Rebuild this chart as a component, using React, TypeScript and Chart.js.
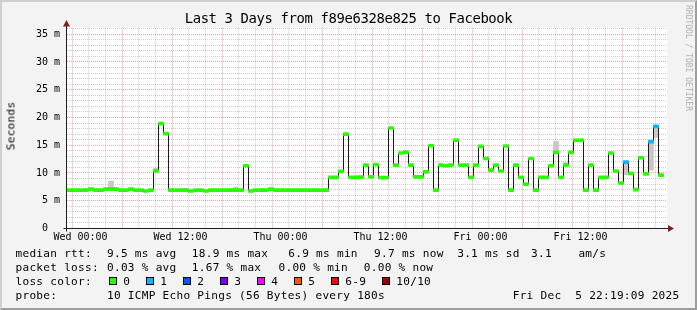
import React, { useEffect, useRef } from "react";
import { Chart, registerables } from "chart.js";

Chart.register(...registerables);

// ---------------- data ----------------
const TITLE = "Last 3 Days from f89e6328e825 to Facebook";
const STEP_HOURS = 0.6; // 36-minute consolidated steps
const FIRST_STEP_START_H = -2.04; // hours relative to Wed 00:00 (partial first step)
const VIEW_START_H = -1.62;
const VIEW_END_H = 70.38;
const Y_MAX_MS = 36.2;

// median rtt (ms) per 36-min step
const medianMs: (number | null)[] = [
  6.9, 6.9, 6.9, 6.9, 6.9, 7.1, 6.9, 6.9, 7.1, 7.1,
  7.1, 6.9, 6.9, 7.1, 6.9, 6.9, 6.75, 6.9, 10.35, 18.9,
  17.1, 6.9, 6.9, 6.9, 6.9, 6.75, 6.9, 6.9, 6.75, 6.9,
  6.9, 6.9, 6.9, 6.9, 6.9, 6.9, 11.3, 6.75, 6.9, 6.9,
  6.9, 7.1, 6.9, 6.9, 6.9, 6.9, 6.9, 6.9, 6.9, 6.9,
  6.9, 6.9, 6.9, 9.2, 9.2, 10.3, 17.0, 9.2, 9.2, 9.25,
  11.4, 9.3, 11.5, 9.15, 9.15, 18.1, 11.4, 13.6, 13.75, 11.4,
  9.3, 9.3, 10.2, 14.9, 6.9, 11.4, 11.3, 11.4, 15.9, 11.4,
  11.4, 9.2, 11.4, 14.8, 12.6, 10.5, 11.4, 10.35, 14.85, 6.9,
  11.4, 9.2, 8.0, 12.6, 6.9, 9.2, 9.2, 11.3, 13.7, 9.2,
  11.4, 13.7, 15.9, 15.9, 6.9, 11.4, 6.9, 9.2, 9.2, 13.6,
  10.35, 8.2, 11.95, 9.9, 7.0, 12.75, 9.85, 15.65, 18.4, 9.6,
  null,
];

// visible "smoke" (ping spread) per step index
const smokeSteps = [9, 18, 21, 24, 33, 34, 89, 98, 100, 112, 113, 117, 118, 119];
const smokeLowMs = [6.9, 10.35, 6.9, 6.9, 6.9, 6.9, 6.9, 13.7, 11.4, 9.7, 9.7, 10.5, 16.4, 9.4];
const smokeHighMs = [8.55, 10.9, 7.2, 7.2, 7.2, 7.45, 7.2, 15.7, 11.85, 11.95, 10.2, 15.65, 18.4, 9.6];

// steps with packet loss (number of lost pings out of 10)
const lossSteps = [112, 117, 118];
const lossCounts = [1, 1, 1];

const xGridHours = [0, 2, 4, 6, 8, 10, 12, 14, 16, 18, 20, 22, 24, 26, 28, 30, 32, 34, 36, 38, 40, 42, 44, 46, 48, 50, 52, 54, 56, 58, 60, 62, 64, 66, 68, 70];
const xLabelHours = [0, 12, 24, 36, 48, 60];
const xLabels = ["Wed 00:00", "Wed 12:00", "Thu 00:00", "Thu 12:00", "Fri 00:00", "Fri 12:00"];
const yGridMs = [0, 1, 2, 3, 4, 5, 6, 7, 8, 9, 10, 11, 12, 13, 14, 15, 16, 17, 18, 19, 20, 21, 22, 23, 24, 25, 26, 27, 28, 29, 30, 31, 32, 33, 34, 35, 36];
const yLabelMs = [0, 5, 10, 15, 20, 25, 30, 35];
const yLabels = ["0  ", "5 m", "10 m", "15 m", "20 m", "25 m", "30 m", "35 m"];

const lossLegendLabels = ["0", "1", "2", "3", "4", "5", "6-9", "10/10"];
const lossLegendColors = ["#26ff00", "#00b8ff", "#0059ff", "#7e00ff", "#ff00ff", "#ff5500", "#ff0000", "#a00000"];
const statsRtt = ["9.5 ms avg", "18.9 ms max", "6.9 ms min", "9.7 ms now", "3.1 ms sd", "3.1", "am/s"];
const statsLoss = ["0.03 % avg", "1.67 % max", "0.00 % min", "0.00 % now"];
const PROBE = "10 ICMP Echo Pings (56 Bytes) every 180s";
const STAMP = "Fri Dec  5 22:19:09 2025";

// ---------------- style ----------------
const MONO = "'DejaVu Sans Mono', monospace";
const BAND_HALF_MS = 0.27;
const MINOR_GRID = "rgba(143,143,143,0.45)";
const MAJOR_GRID = "rgba(222,80,80,0.5)";
const SMOKE_COLOR = "#c8c8c8";
const rttX = [107, 191.8, 288.3, 374.1, 457.2, 531, 578.4];
const lossX = [107, 191.8, 278.5, 363.8];
const boxX = [108.5, 145.5, 182.5, 219.5, 256.5, 293.5, 330.5, 381.5];

function lossColorIndex(count: number) {
  if (count <= 5) return count;
  if (count < 10) return 6;
  return 7;
}

const rrdFrame = {
  id: "rrdFrame",
  beforeDraw(chart: any) {
    const { ctx, chartArea: a } = chart;
    ctx.save();
    ctx.fillStyle = "#ffffff";
    ctx.fillRect(a.left, a.top, a.right - a.left, a.bottom - a.top);
    ctx.restore();
  },
  afterDraw(chart: any) {
    const { ctx, chartArea: a } = chart;
    const ax = a.left - 0.5;
    const ay = a.bottom;
    ctx.save();
    ctx.strokeStyle = "#1f1f1f";
    ctx.lineWidth = 1;
    ctx.beginPath();
    ctx.moveTo(ax, ay + 3);
    ctx.lineTo(ax, a.top - 2);
    ctx.moveTo(ax - 3, ay);
    ctx.lineTo(a.right + 2, ay);
    ctx.stroke();
    ctx.fillStyle = "#801f1f";
    ctx.beginPath();
    ctx.moveTo(ax - 3.5, a.top - 1);
    ctx.lineTo(ax + 3.5, a.top - 1);
    ctx.lineTo(ax, a.top - 7.5);
    ctx.closePath();
    ctx.fill();
    ctx.beginPath();
    ctx.moveTo(a.right + 1, ay - 3.5);
    ctx.lineTo(a.right + 1, ay + 3.5);
    ctx.lineTo(a.right + 7, ay);
    ctx.closePath();
    ctx.fill();
    ctx.restore();
  },
};

function Txt(props: { x: number; base: number; text: string; size?: number; ls?: number; color?: string }) {
  const size = props.size ?? 11.1;
  const ls = props.ls ?? 0.27;
  return (
    <div
      style={{
        position: "absolute",
        left: props.x,
        top: props.base - 0.846 * size,
        fontFamily: MONO,
        fontSize: size,
        lineHeight: `${size}px`,
        letterSpacing: ls,
        whiteSpace: "pre",
        color: props.color ?? "#000",
      }}
    >
      {props.text}
    </div>
  );
}

export default function App() {
  const ref = useRef<HTMLCanvasElement>(null);

  useEffect(() => {
    const canvas = ref.current;
    if (!canvas) return;
    const stepStart = (i: number) => FIRST_STEP_START_H + i * STEP_HOURS;
    const stepMid = (i: number) => stepStart(i) + STEP_HOURS / 2;

    const linePts: { x: number; y: number | null }[] = [];
    medianMs.forEach((v, i) => {
      if (v == null) {
        linePts.push({ x: stepStart(i), y: null });
        return;
      }
      linePts.push({ x: stepStart(i), y: v });
      const next = i + 1 < medianMs.length ? medianMs[i + 1] : null;
      if (next == null) linePts.push({ x: stepStart(i + 1), y: v });
    });

    const bandPts: any[] = [];
    const bandColors: string[] = [];
    medianMs.forEach((v, i) => {
      if (v == null) return;
      const li = lossSteps.indexOf(i);
      const loss = li >= 0 ? lossCounts[li] : 0;
      bandPts.push({ x: stepMid(i), y: [v - BAND_HALF_MS, v + BAND_HALF_MS] });
      bandColors.push(lossLegendColors[lossColorIndex(loss)]);
    });

    const smokePts = smokeSteps.map((s, j) => ({ x: stepMid(s), y: [smokeLowMs[j], smokeHighMs[j]] }));

    const tickFont = { family: MONO, size: 10 };

    const chart = new Chart(canvas, {
      type: "line",
      data: {
        datasets: [
          {
            type: "bar",
            label: "smoke",
            data: smokePts,
            backgroundColor: SMOKE_COLOR,
            borderWidth: 0,
            grouped: false,
            barPercentage: 1,
            categoryPercentage: 1,
            order: 3,
          },
          {
            type: "line",
            label: "median",
            data: linePts,
            borderColor: "#1a1a1a",
            borderWidth: 1,
            pointRadius: 0,
            pointHitRadius: 0,
            stepped: "before",
            spanGaps: false,
            fill: false,
            order: 2,
          },
          {
            type: "bar",
            label: "loss",
            data: bandPts,
            backgroundColor: bandColors,
            borderWidth: 0,
            grouped: false,
            barPercentage: 1,
            categoryPercentage: 1,
            order: 1,
          },
        ],
      } as any,
      options: {
        responsive: false,
        animation: false,
        events: [],
        layout: { padding: { left: 0, top: 27.5, right: 30, bottom: 61.5 } },
        plugins: { legend: { display: false }, tooltip: { enabled: false }, title: { display: false } },
        scales: {
          x: {
            type: "linear",
            min: VIEW_START_H,
            max: VIEW_END_H,
            bounds: "data",
            offset: false,
            afterBuildTicks: (s: any) => {
              s.ticks = xGridHours.map((value) => ({ value }));
            },
            afterFit: (s: any) => {
              s.height = 20;
            },
            ticks: {
              autoSkip: false,
              maxRotation: 0,
              minRotation: 0,
              padding: 3,
              color: "#000",
              font: tickFont,
              callback: (v: any) => {
                const j = xLabelHours.indexOf(Number(v));
                return j >= 0 ? xLabels[j] : "";
              },
            },
            grid: {
              drawTicks: false,
              lineWidth: 1,
              color: (c: any) => (c.tick && c.tick.value % 6 === 0 ? MAJOR_GRID : MINOR_GRID),
            },
            border: { display: false, dash: [1, 1] },
          },
          y: {
            type: "linear",
            min: 0,
            max: Y_MAX_MS,
            bounds: "data",
            afterBuildTicks: (s: any) => {
              s.ticks = yGridMs.map((value) => ({ value }));
            },
            afterFit: (s: any) => {
              s.width = 67;
            },
            ticks: {
              autoSkip: false,
              padding: 7,
              color: "#000",
              font: tickFont,
              callback: (v: any) => {
                const j = yLabelMs.indexOf(Number(v));
                return j >= 0 ? yLabels[j] : "";
              },
            },
            grid: {
              drawTicks: false,
              lineWidth: 1,
              color: (c: any) =>
                c.tick && c.tick.value % 5 === 0 && c.tick.value !== 0 ? MAJOR_GRID : MINOR_GRID,
            },
            border: { display: false, dash: [1, 1] },
          },
        },
      } as any,
      plugins: [rrdFrame],
    });
    return () => chart.destroy();
  }, []);

  const rowBase = [257.7, 271.7, 285.7, 299.7];

  return (
    <div
      style={{
        position: "absolute",
        left: 0,
        top: 0,
        width: 697,
        height: 310,
        background: "#f3f3f3",
        overflow: "hidden",
      }}
    >
      <canvas
        ref={ref}
        width={697}
        height={310}
        style={{ position: "absolute", left: 0, top: 0, width: 697, height: 310, display: "block" }}
      />
      {/* title */}
      <div
        style={{
          position: "absolute",
          left: 0,
          width: 697,
          top: 24 - 0.846 * 13.9,
          textAlign: "center",
          fontFamily: MONO,
          fontSize: 13.9,
          lineHeight: "13.9px",
          letterSpacing: -0.37,
          whiteSpace: "pre",
          color: "#000",
        }}
      >
        {TITLE}
      </div>
      {/* y axis title */}
      <div
        style={{
          position: "absolute",
          left: 11,
          top: 126,
          transform: "translate(-50%, -50%) rotate(-90deg)",
          fontFamily: MONO,
          fontSize: 11.1,
          lineHeight: "11.1px",
          letterSpacing: 0.27,
          whiteSpace: "pre",
          color: "#000",
        }}
      >
        Seconds
      </div>
      {/* watermark */}
      <div
        style={{
          position: "absolute",
          left: 687.5,
          top: 57.5,
          transform: "translate(-50%, -50%) rotate(90deg)",
          fontFamily: MONO,
          fontSize: 8,
          lineHeight: "8px",
          whiteSpace: "pre",
          color: "#b0b0b0",
        }}
      >
        RRDTOOL / TOBI OETIKER
      </div>

      {/* legend */}
      <Txt x={15.5} base={rowBase[0]} text="median rtt:" />
      {statsRtt.map((s, i) => (
        <Txt key={"r" + i} x={rttX[i]} base={rowBase[0]} text={s} />
      ))}
      <Txt x={15.5} base={rowBase[1]} text="packet loss:" />
      {statsLoss.map((s, i) => (
        <Txt key={"l" + i} x={lossX[i]} base={rowBase[1]} text={s} />
      ))}
      <Txt x={15.5} base={rowBase[2]} text="loss color:" />
      {lossLegendLabels.map((s, i) => (
        <React.Fragment key={"c" + i}>
          <div
            style={{
              position: "absolute",
              left: boxX[i],
              top: 277.3,
              width: 8,
              height: 8,
              boxSizing: "border-box",
              border: "1px solid #000",
              background: lossLegendColors[i],
            }}
          />
          <Txt x={boxX[i] + 14.8} base={rowBase[2]} text={s} />
        </React.Fragment>
      ))}
      <Txt x={15.5} base={rowBase[3]} text="probe:" />
      <Txt x={107} base={rowBase[3]} text={PROBE} />
      <Txt x={512.7} base={rowBase[3]} text={STAMP} />

      {/* frame shading */}
      <div
        style={{
          position: "absolute",
          left: 0,
          top: 0,
          width: 697,
          height: 310,
          boxSizing: "border-box",
          borderTop: "2px solid #cfcfcf",
          borderLeft: "2px solid #cfcfcf",
          borderBottom: "2px solid #9e9e9e",
          borderRight: "2px solid #9e9e9e",
          pointerEvents: "none",
        }}
      />
    </div>
  );
}
